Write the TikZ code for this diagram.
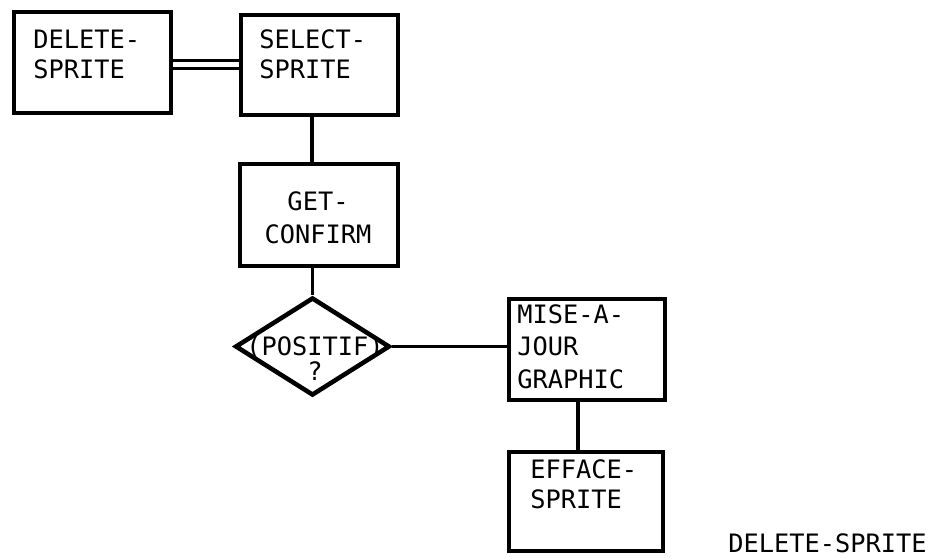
\documentclass[tikz,border=0pt]{standalone}
\usepackage{fontspec}
\setmonofont{DejaVu Sans Mono}
\usetikzlibrary{shapes.geometric}
\begin{document}
\begin{tikzpicture}[x=0.75pt,y=-0.75pt,
  boxnode/.style={draw, line width=3.4pt, rectangle, inner sep=0pt},
  condnode/.style={draw, line width=3.4pt, diamond, inner sep=0pt},
  conn/.style={line width=2.8pt},
  txt/.style={font=\ttfamily\fontsize{19}{22.5}\selectfont, inner sep=0pt, align=left, text width=110pt},
]
\useasboundingbox (0,0) rectangle (942,557);
% boxes
\node[boxnode, minimum width=117.75pt, minimum height=75.75pt] (del) at (92.5,62.5) {};
\node[boxnode, minimum width=117.75pt, minimum height=75pt] (sel) at (319.5,65) {};
\node[boxnode, minimum width=118.5pt, minimum height=76.5pt] (get) at (319,215) {};
\node[condnode, minimum width=116pt, minimum height=73.5pt] (pos) at (312.5,346.5) {};
\node[boxnode, minimum width=117pt, minimum height=75.75pt] (mise) at (587,349.5) {};
\node[boxnode, minimum width=115.5pt, minimum height=74.25pt] (eff) at (586,501.5) {};
% texts
\node[txt, anchor=base west] (delt) at (33,48) {DELETE-\\SPRITE};
\node[txt, anchor=base west] (selt) at (259,48) {SELECT-\\SPRITE};
\node[txt, anchor=base, align=center, font=\ttfamily\fontsize{19}{24.75}\selectfont] (gett) at (318,210) {GET-\\CONFIRM};
\node[txt, anchor=base, align=center, font=\ttfamily\fontsize{19}{18.75}\selectfont] (post) at (315,355) {(POSITIF)\\?};
\node[txt, anchor=base west, font=\ttfamily\fontsize{19}{24.4}\selectfont] (miset) at (517,323) {MISE-A-\\JOUR\\GRAPHIC};
\node[txt, anchor=base west] (efft) at (530,478) {EFFACE-\\SPRITE};
\node[txt, anchor=base west, text width=200pt] (title) at (728,552) {DELETE-SPRITE};
% connectors
\draw[line width=2.4pt, double, double distance=3.6pt] ([yshift=-1.5pt]del.east) -- ([yshift=-1.5pt]del.east -| sel.west);
\draw[conn] ([xshift=-5.6pt]sel.south) -- ([xshift=-5.6pt]sel.south |- get.north);
\draw[conn] (pos.north |- get.south) -- (pos.north);
\draw[conn] (pos.east) -- (pos.east -| mise.west);
\draw[conn] ([xshift=-6.75pt]mise.south) -- ([xshift=-6.75pt]mise.south |- eff.north);
\end{tikzpicture}
\end{document}
